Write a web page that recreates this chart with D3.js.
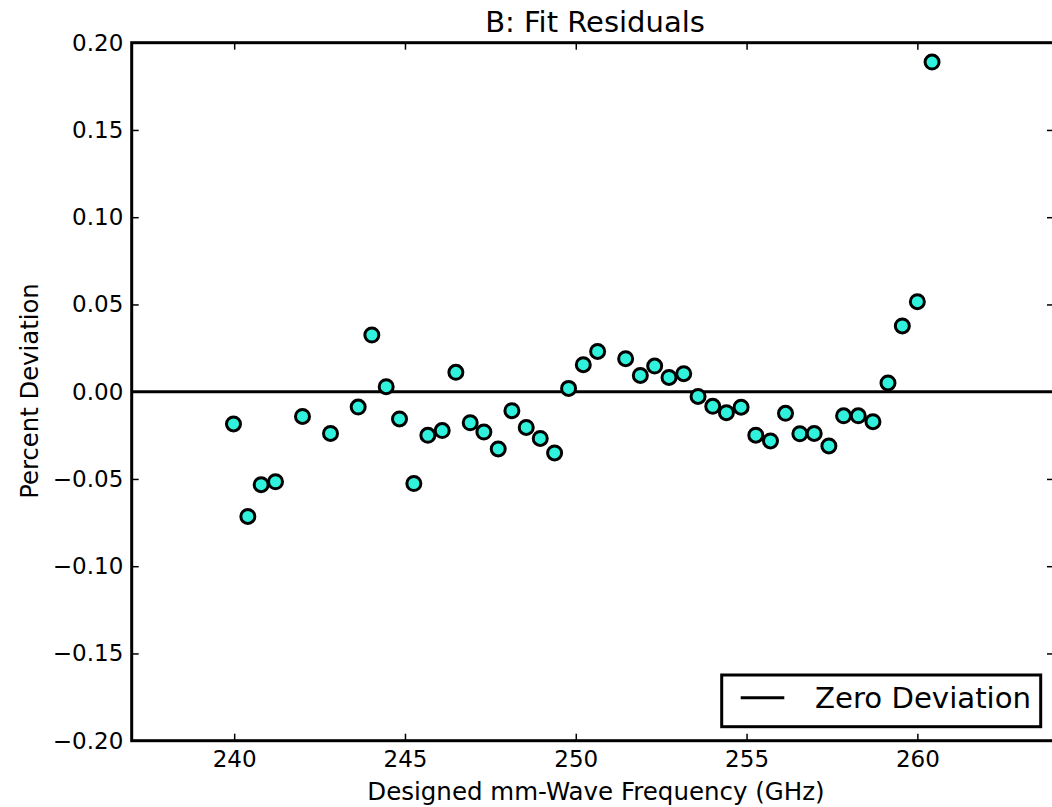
<!DOCTYPE html>
<html>
<head>
<meta charset="utf-8">
<script src="https://cdn.jsdelivr.net/npm/d3@7"></script>
<style>
  html, body { margin: 0; padding: 0; background: #fff; }
  svg { display: block; font-family: "DejaVu Sans", sans-serif; }
</style>
</head>
<body>
<svg id="chart" width="1052" height="807"></svg>
<script>
// Designed mm-wave frequency (GHz) of each measured point
const frequency = [
  239.98, 240.40, 240.79, 241.21, 242.00, 242.82, 243.63, 244.03, 244.45, 244.84,
  245.26, 245.67, 246.09, 246.49, 246.91, 247.31, 247.73, 248.13, 248.55, 248.96,
  249.38, 249.79, 250.22, 250.64, 251.46, 251.89, 252.31, 252.73, 253.16, 253.58,
  254.01, 254.41, 254.84, 255.27, 255.70, 256.14, 256.56, 256.98, 257.41, 257.84,
  258.27, 258.70, 259.14, 259.56, 260.00, 260.43
];
// Fit residual of each point, in percent
const deviation = [
  -0.0185, -0.0715, -0.0533, -0.0516, -0.0142, -0.0239, -0.0088, 0.0325, 0.0029, -0.0156,
  -0.0526, -0.0250, -0.0223, 0.0111, -0.0178, -0.0231, -0.0328, -0.0109, -0.0205, -0.0268,
  -0.0351, 0.0019, 0.0155, 0.0231, 0.0189, 0.0093, 0.0147, 0.0082, 0.0103, -0.0027,
  -0.0084, -0.0120, -0.0089, -0.0249, -0.0282, -0.0124, -0.0241, -0.0239, -0.0311, -0.0138,
  -0.0138, -0.0172, 0.0050, 0.0377, 0.0516, 0.1889
];
const xTicks = [240, 245, 250, 255, 260];
const yTicks = [-0.20, -0.15, -0.10, -0.05, 0.00, 0.05, 0.10, 0.15, 0.20];
const xDomain = [237, 264];
const yDomain = [-0.20, 0.20];
const referenceLevel = [0];
const legendLabels = ["Zero Deviation"];

const svg = d3.select("#chart");
const m = { left: 131.7, top: 42.7, right: 1054, bottom: 740.7 };

const x = d3.scaleLinear().domain(xDomain).range([m.left, m.right]);
const y = d3.scaleLinear().domain(yDomain).range([m.bottom, m.top]);

// Zero-deviation reference line
svg.selectAll("line.ref").data(referenceLevel).enter().append("line")
  .attr("class", "ref")
  .attr("x1", m.left).attr("x2", m.right)
  .attr("y1", d => y(d)).attr("y2", d => y(d))
  .attr("stroke", "#000").attr("stroke-width", 3);

// Residual markers
svg.append("g").selectAll("circle").data(frequency).enter().append("circle")
  .attr("cx", d => x(d))
  .attr("cy", (d, i) => y(deviation[i]))
  .attr("r", 7)
  .attr("fill", "#30f2dc")
  .attr("stroke", "#000")
  .attr("stroke-width", 3);

// Axes with inward ticks on all four sides
const fmtY = d3.format(".2f");
function styleAxis(g) {
  g.select(".domain").remove();
  g.selectAll(".tick line").attr("stroke", "#000").attr("stroke-width", 1.5);
  g.selectAll(".tick text").attr("fill", "#000").attr("font-size", 23)
    .attr("font-family", "DejaVu Sans, sans-serif");
}
svg.append("g").attr("transform", `translate(0,${m.bottom})`)
  .call(d3.axisBottom(x).tickValues(xTicks).tickSize(-7).tickPadding(10).tickFormat(d3.format("d")))
  .call(styleAxis);
svg.append("g").attr("transform", `translate(0,${m.top})`)
  .call(d3.axisTop(x).tickValues(xTicks).tickSize(-7).tickFormat(""))
  .call(styleAxis);
svg.append("g").attr("transform", `translate(${m.left},0)`)
  .call(d3.axisLeft(y).tickValues(yTicks).tickSize(-7).tickPadding(8.4).tickFormat(fmtY))
  .call(styleAxis);
svg.append("g").attr("transform", `translate(${m.right},0)`)
  .call(d3.axisRight(y).tickValues(yTicks).tickSize(-7).tickFormat(""))
  .call(styleAxis);

// Frame
svg.append("rect")
  .attr("x", m.left).attr("y", m.top)
  .attr("width", m.right - m.left).attr("height", m.bottom - m.top)
  .attr("fill", "none").attr("stroke", "#000").attr("stroke-width", 3);

// Title and axis labels
svg.append("text").attr("x", 595).attr("y", 31.7).attr("text-anchor", "middle")
  .attr("font-size", 29).attr("fill", "#000").text("B: Fit Residuals");
svg.append("text").attr("x", 596).attr("y", 800).attr("text-anchor", "middle")
  .attr("font-size", 24.5).attr("fill", "#000").text("Designed mm-Wave Frequency (GHz)");
svg.append("text").attr("transform", "translate(38,391) rotate(-90)").attr("text-anchor", "middle")
  .attr("font-size", 24.3).attr("fill", "#000").text("Percent Deviation");

// Legend
const legend = svg.append("g").attr("transform", "translate(721.7,675)");
legend.append("rect").attr("width", 319).attr("height", 51.7)
  .attr("fill", "#fff").attr("stroke", "#000").attr("stroke-width", 3);
legend.selectAll("line").data(legendLabels).enter().append("line")
  .attr("x1", 19).attr("x2", 62.6).attr("y1", 22.7).attr("y2", 22.7)
  .attr("stroke", "#000").attr("stroke-width", 3);
legend.selectAll("text").data(legendLabels).enter().append("text")
  .attr("x", 93.3).attr("y", 33.2).attr("font-size", 29.2).attr("fill", "#000")
  .text(d => d);
</script>
</body>
</html>
